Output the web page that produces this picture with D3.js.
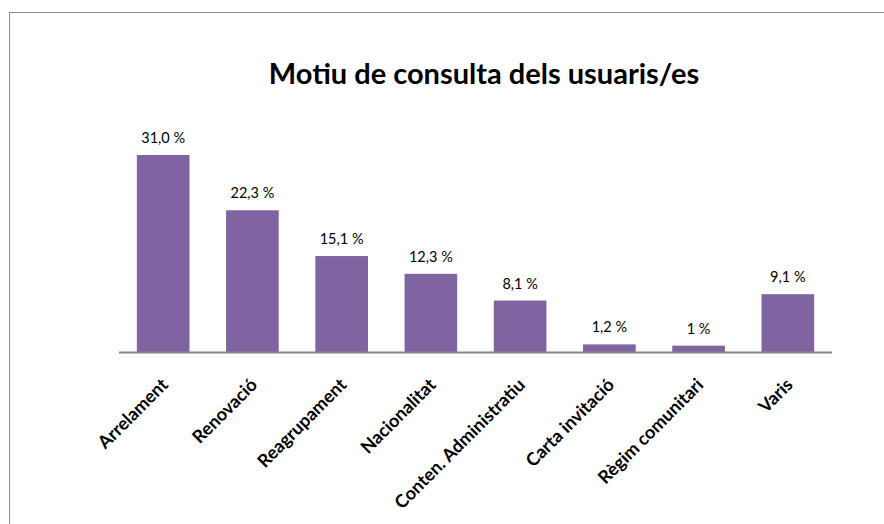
<!DOCTYPE html>
<html lang="ca">
<head>
    <title>Motiu de consulta</title>
    <script src="https://d3js.org/d3.v7.min.js"></script>
    <style>
        body { margin: 0; background: #fff; }
        text { font-family: Lato, "Open Sans", sans-serif; fill: #000; }
    </style>
</head>
<body>
    <svg id="chart"></svg>

    <script>
        var categories = ["Arrelament", "Renovació", "Reagrupament", "Nacionalitat",
            "Conten. Administratiu", "Carta invitació", "Règim comunitari", "Varis"];
        var values = [31.0, 22.3, 15.1, 12.3, 8.1, 1.2, 1.0, 9.1];
        var valueLabels = ["31,0 %", "22,3 %", "15,1 %", "12,3 %", "8,1 %", "1,2 %", "1 %", "9,1 %"];

        var W = 884, H = 524;
        var left = 119, right = 832, base = 352;

        var svg = d3.select("#chart").attr("width", W).attr("height", H);

        // chart frame (runs off right and bottom)
        svg.append("rect")
            .attr("x", 9.5).attr("y", 12.5)
            .attr("width", W).attr("height", H)
            .attr("fill", "none")
            .attr("stroke", "#8c8c8c")
            .attr("stroke-width", 1);

        svg.append("text")
            .attr("x", 484).attr("y", 84)
            .attr("text-anchor", "middle")
            .style("font-size", "29px")
            .style("font-weight", "bold")
            .text("Motiu de consulta dels usuaris/es");

        var x = d3.scaleBand().domain(categories).range([left, right]).paddingInner(0.41).paddingOuter(0.2);
        var y = d3.scaleLinear().domain([0, 31]).range([base, 155]);

        svg.selectAll(".bar")
            .data(values)
            .enter().append("rect")
            .attr("class", "bar")
            .attr("x", function (d, i) { return x(categories[i]); })
            .attr("y", function (d) { return y(d); })
            .attr("width", x.bandwidth())
            .attr("height", function (d) { return base - y(d); })
            .attr("fill", "#8064a2");

        svg.selectAll(".val")
            .data(values)
            .enter().append("text")
            .attr("class", "val")
            .attr("x", function (d, i) { return x(categories[i]) + x.bandwidth() / 2; })
            .attr("y", function (d) { return y(d) - 12; })
            .attr("text-anchor", "middle")
            .style("font-size", "14.5px")
            .text(function (d, i) { return valueLabels[i]; });

        // axis line
        svg.append("line")
            .attr("x1", left).attr("x2", right)
            .attr("y1", base + 0.5).attr("y2", base + 0.5)
            .attr("stroke", "#868686")
            .attr("stroke-width", 2);

        svg.selectAll(".cat")
            .data(categories)
            .enter().append("text")
            .attr("class", "cat")
            .attr("text-anchor", "end")
            .attr("transform", function (d) {
                return "translate(" + (x(d) + x.bandwidth() / 2 + 6) + "," + (base + 34) + ") rotate(-45)";
            })
            .style("font-size", "18px")
            .style("font-weight", "bold")
            .text(function (d) { return d; });
    </script>
</body>
</html>
